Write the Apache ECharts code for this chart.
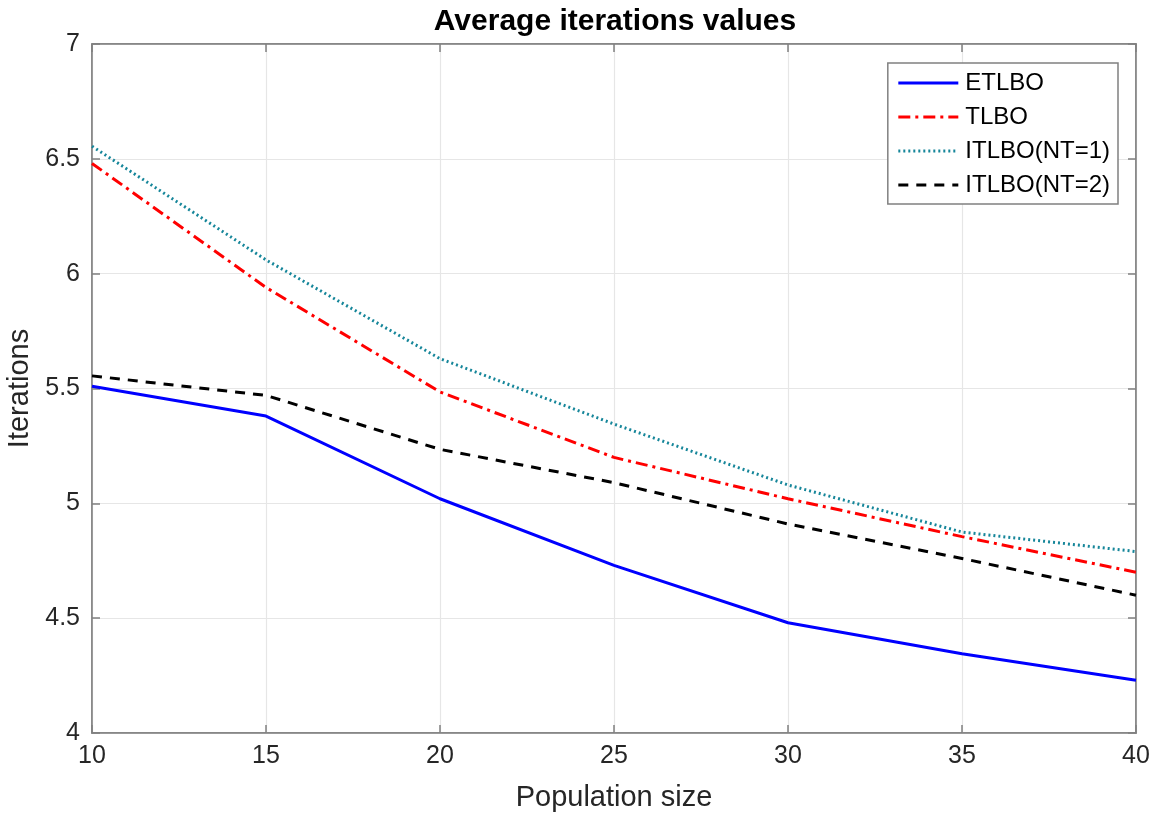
<!DOCTYPE html>
<html>
<head>
<meta charset="utf-8">
<script src="https://cdn.jsdelivr.net/npm/echarts@6/dist/echarts.min.js"></script>
<style>
  html, body { margin: 0; padding: 0; background: #ffffff; }
  #chart { width: 1168px; height: 825px; }
</style>
</head>
<body>
<div id="chart"></div>
<script>
// Population sizes on the x axis
const populationSizes = [10, 15, 20, 25, 30, 35, 40];

// Average number of iterations for each algorithm
const etlbo   = [5.51, 5.38, 5.02, 4.73, 4.48, 4.345, 4.23];
const tlbo    = [6.48, 5.94, 5.485, 5.20, 5.02, 4.855, 4.70];
const itlbo1  = [6.555, 6.06, 5.63, 5.345, 5.08, 4.875, 4.79];
const itlbo2  = [5.555, 5.47, 5.235, 5.09, 4.91, 4.76, 4.60];

const seriesNames = ['ETLBO', 'TLBO', 'ITLBO(NT=1)', 'ITLBO(NT=2)'];

const pair = (vals) => populationSizes.map((x, i) => [x, vals[i]]);

const FONT = 'Liberation Sans, Arial, Helvetica, sans-serif';
const frameColor = '#808080';
const gridColor = '#e6e6e6';
const textColor = '#262626';

const chart = echarts.init(document.getElementById('chart'), null, { renderer: 'canvas' });

const tickStyle = { show: true, inside: true, length: 8, lineStyle: { color: frameColor, width: 1.5 } };

chart.setOption({
  backgroundColor: '#ffffff',
  animation: false,
  title: {
    text: 'Average iterations values',
    left: 610,
    textAlign: 'center',
    top: 2,
    textStyle: { fontFamily: FONT, fontSize: 30, fontWeight: 'bold', color: '#000000' }
  },
  grid: {
    left: 92, right: 32, top: 44, bottom: 92,
    outerBoundsMode: 'none',
    containLabel: false,
    show: true, borderColor: frameColor, borderWidth: 1.5, backgroundColor: '#ffffff'
  },
  legend: {
    orient: 'vertical',
    right: 50, top: 63,
    padding: [8, 8, 7, 9],
    borderColor: frameColor,
    borderWidth: 1.5,
    backgroundColor: '#ffffff',
    itemWidth: 60,
    itemHeight: 14,
    itemGap: 10,
    itemStyle: { opacity: 0 },
    lineStyle: { width: 3 },
    data: seriesNames,
    textStyle: { fontFamily: FONT, fontSize: 24, lineHeight: 24, color: '#000000', padding: [0, 0, 0, 2] }
  },
  xAxis: [{
    type: 'value',
    min: 10, max: 40, interval: 5,
    name: 'Population size',
    nameLocation: 'middle',
    nameGap: 50,
    nameTextStyle: { fontFamily: FONT, fontSize: 29, color: textColor },
    axisLine: { show: true, lineStyle: { color: frameColor, width: 1.5 } },
    axisTick: tickStyle,
    axisLabel: { fontFamily: FONT, fontSize: 25, color: textColor, margin: 11 },
    splitLine: { show: true, lineStyle: { color: gridColor, width: 1.2 } }
  }, {
    type: 'value', position: 'top',
    min: 10, max: 40, interval: 5,
    axisLine: { show: true, lineStyle: { color: frameColor, width: 1.5 } },
    axisTick: tickStyle,
    axisLabel: { show: false },
    splitLine: { show: false }
  }],
  yAxis: [{
    type: 'value',
    min: 4, max: 7, interval: 0.5,
    name: 'Iterations',
    nameLocation: 'middle',
    nameGap: 56,
    nameTextStyle: { fontFamily: FONT, fontSize: 29, color: textColor },
    axisLine: { show: true, lineStyle: { color: frameColor, width: 1.5 } },
    axisTick: tickStyle,
    axisLabel: { fontFamily: FONT, fontSize: 25, color: textColor, margin: 12,
      formatter: (v) => String(Math.round(v * 10) / 10) },
    splitLine: { show: true, lineStyle: { color: gridColor, width: 1.2 } }
  }, {
    type: 'value', position: 'right',
    min: 4, max: 7, interval: 0.5,
    axisLine: { show: true, lineStyle: { color: frameColor, width: 1.5 } },
    axisTick: tickStyle,
    axisLabel: { show: false },
    splitLine: { show: false }
  }],
  series: [{
    name: seriesNames[0],
    type: 'line',
    data: pair(etlbo),
    symbol: 'none',
    lineStyle: { color: '#0000ff', width: 3, type: 'solid' },
    itemStyle: { color: '#0000ff' }
  }, {
    name: seriesNames[1],
    type: 'line',
    data: pair(tlbo),
    symbol: 'none',
    lineStyle: { color: '#ff0000', width: 3, type: [12, 5, 3, 5] },
    itemStyle: { color: '#ff0000' }
  }, {
    name: seriesNames[2],
    type: 'line',
    data: pair(itlbo1),
    symbol: 'none',
    lineStyle: { color: '#16869a', width: 3, type: [2, 3] },
    itemStyle: { color: '#16869a' }
  }, {
    name: seriesNames[3],
    type: 'line',
    data: pair(itlbo2),
    symbol: 'none',
    lineStyle: { color: '#000000', width: 3, type: [10, 8] },
    itemStyle: { color: '#000000' }
  }]
});
</script>
</body>
</html>
